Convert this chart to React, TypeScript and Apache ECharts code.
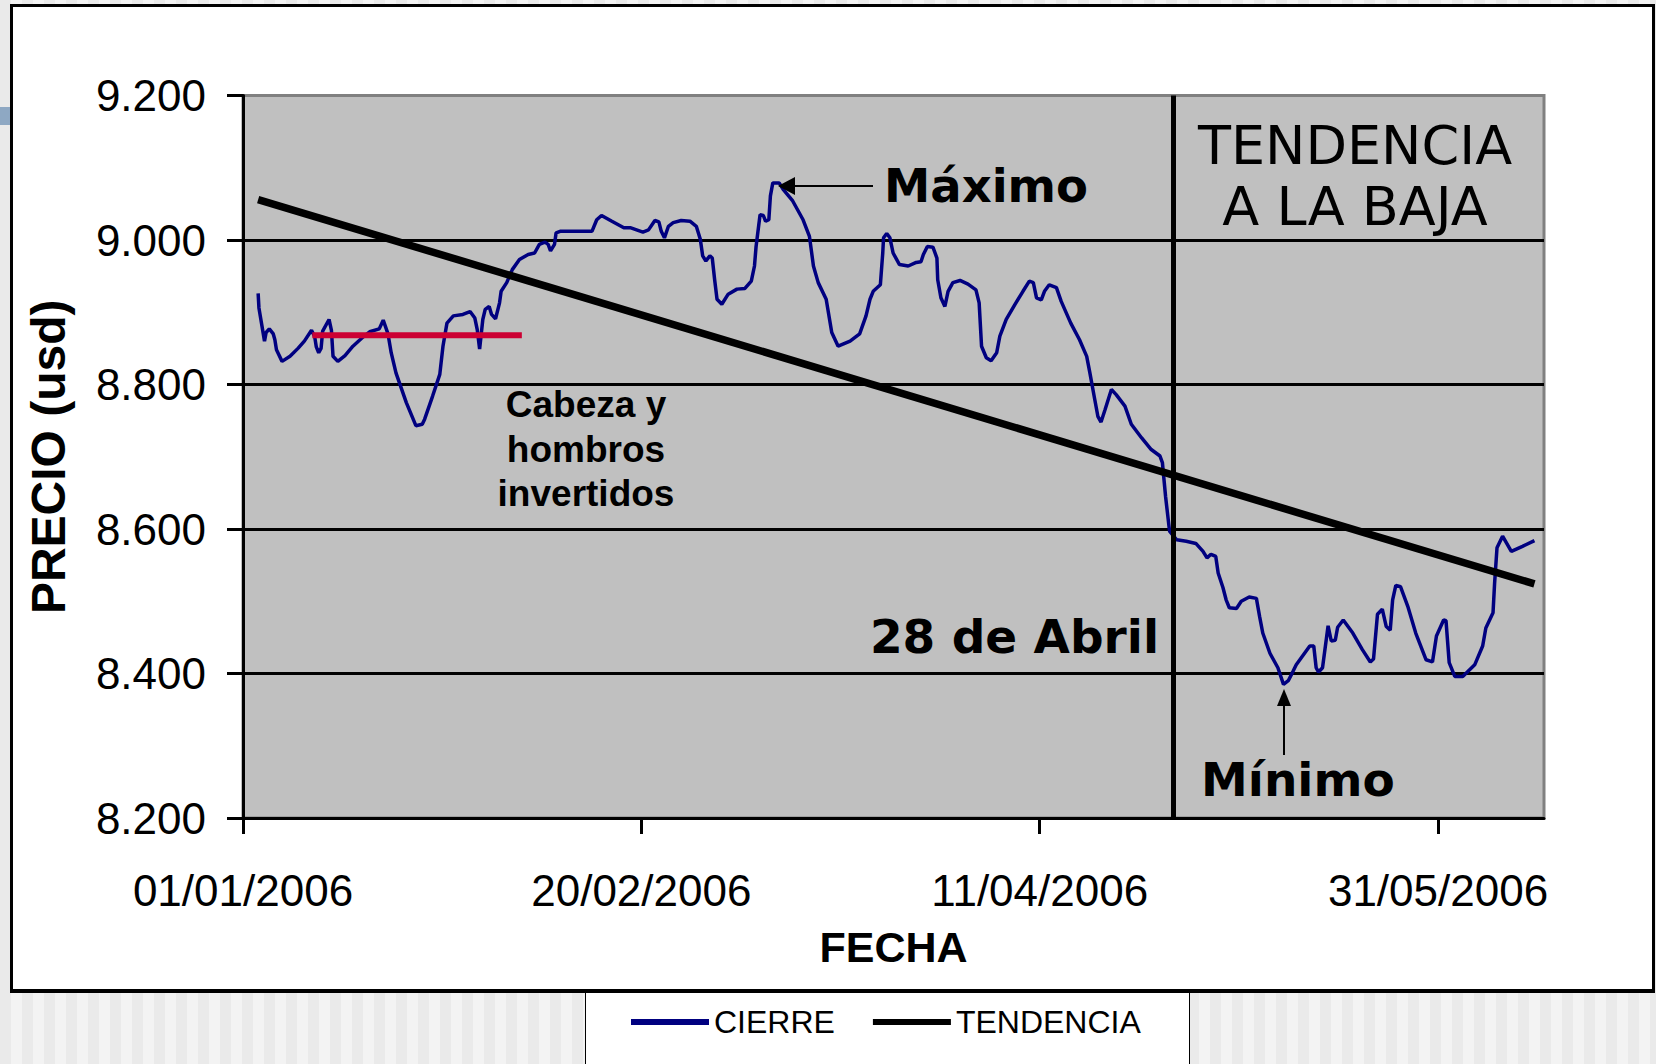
import React, { useEffect, useRef } from 'react';
import * as echarts from 'echarts';

// Days since 01/01/2006 (as plotted) and closing prices
const cierreDays = [
  1.9, 2.0, 2.7, 2.9, 3.3, 3.8, 4.0, 4.2, 4.9, 5.9, 6.9, 7.7, 8.6, 9.0, 9.2, 9.5, 9.8, 10.0, 10.8, 11.1,
  11.3, 11.9, 12.8, 13.8, 15.1, 15.9, 17.1, 17.6, 18.2, 18.6, 19.2, 20.5, 21.7, 22.5, 22.8, 23.8, 24.7, 25.1, 25.6, 26.4,
  27.6, 28.5, 29.1, 29.4, 29.7, 30.1, 30.4, 30.9, 31.2, 31.7, 32.2, 32.4, 33.1, 33.8, 34.7, 35.8, 36.6, 37.2, 37.9, 38.3,
  38.6, 39.1, 39.3, 39.8, 43.8, 44.4, 45.0, 46.3, 47.8, 48.6, 50.2, 50.9, 51.7, 52.2, 52.5, 52.9, 53.4, 54.0, 55.0, 56.1,
  56.9, 57.4, 57.7, 58.1, 58.6, 58.9, 59.2, 59.5, 60.1, 60.9, 62.0, 63.0, 63.8, 64.2, 64.4, 64.9, 65.3, 65.6, 66.0, 66.2,
  66.5, 67.3, 67.8, 69.0, 70.3, 71.1, 71.6, 72.2, 73.2, 73.9, 74.7, 76.2, 77.4, 78.2, 78.7, 79.1, 80.0, 80.3, 80.4, 80.8,
  81.2, 81.6, 82.4, 83.5, 84.5, 85.1, 85.4, 85.9, 86.6, 87.1, 87.2, 87.6, 88.1, 88.5, 89.1, 90.0, 91.0, 92.0, 92.4, 92.7,
  93.3, 93.9, 94.6, 95.0, 95.8, 96.9, 97.9, 98.7, 99.2, 99.6, 100.2, 100.6, 101.2, 102.1, 102.7, 103.9, 105.0, 105.9, 106.3, 106.9,
  107.3, 107.7, 108.2, 109.0, 109.6, 110.7, 111.5, 112.8, 114.0, 115.1, 115.4, 115.8, 116.3, 117.2, 118.4, 119.6, 120.5, 121.0, 121.5, 122.1,
  122.4, 123.0, 123.4, 123.8, 124.7, 125.3, 126.3, 127.2, 127.6, 128.0, 128.9, 129.9, 130.6, 131.2, 131.8, 132.2, 133.9, 134.4, 134.7, 135.0,
  135.5, 136.2, 136.6, 137.1, 137.4, 138.1, 139.3, 140.5, 141.5, 141.9, 142.4, 143.0, 143.5, 144.0, 144.3, 144.7, 145.3, 146.2, 147.2, 148.5,
  149.3, 149.8, 150.7, 151.0, 151.4, 152.1, 153.1, 154.6, 155.6, 156.0, 156.9, 157.1, 157.4, 158.1, 159.2, 160.6, 162.1,
];
const cierreValues = [
  8926, 8906, 8860, 8872, 8877, 8870, 8862, 8848, 8832, 8839, 8850, 8860, 8875, 8866, 8852, 8844, 8850, 8874, 8890, 8875,
  8839, 8832, 8840, 8853, 8866, 8873, 8877, 8889, 8870, 8844, 8816, 8775, 8743, 8745, 8752, 8784, 8814, 8853, 8885, 8895,
  8897, 8901, 8892, 8876, 8849, 8890, 8904, 8908, 8897, 8891, 8913, 8929, 8941, 8959, 8973, 8980, 8982, 8994, 8997, 8994,
  8985, 8994, 9010, 9012, 9012, 9028, 9034, 9026, 9017, 9017, 9011, 9014, 9027, 9025, 9012, 9003, 9019, 9024, 9027, 9026,
  9019, 9001, 8978, 8971, 8978, 8975, 8945, 8918, 8911, 8925, 8932, 8933, 8943, 8964, 8991, 9035, 9034, 9026, 9028, 9061,
  9079, 9079, 9070, 9054, 9028, 9005, 8964, 8941, 8918, 8872, 8853, 8860, 8870, 8895, 8918, 8929, 8938, 8982, 9003, 9009,
  9003, 8982, 8966, 8964, 8969, 8970, 8980, 8991, 8990, 8975, 8945, 8920, 8908, 8929, 8941, 8944, 8939, 8931, 8913, 8853,
  8837, 8833, 8844, 8867, 8890, 8911, 8929, 8943, 8941, 8920, 8917, 8929, 8938, 8934, 8915, 8885, 8862, 8839, 8816, 8780,
  8756, 8748, 8765, 8793, 8786, 8770, 8745, 8726, 8710, 8701, 8692, 8645, 8597, 8585, 8583, 8580, 8569, 8560, 8565, 8562,
  8539, 8519, 8502, 8491, 8490, 8500, 8506, 8504, 8479, 8456, 8428, 8408, 8385, 8390, 8403, 8412, 8438, 8438, 8408, 8402,
  8408, 8466, 8445, 8446, 8464, 8474, 8456, 8433, 8416, 8420, 8482, 8489, 8465, 8460, 8502, 8522, 8520, 8493, 8456, 8419,
  8416, 8452, 8474, 8473, 8415, 8396, 8396, 8412, 8438, 8463, 8484, 8525, 8574, 8590, 8569, 8576, 8584,
];
const trendDays = [1.9, 162.1];
const trendValues = [9056, 8524];
const shoulderDays = [8.7, 35.0];
const shoulderValues = [8868, 8868];
const xTickDays = [0, 50, 100, 150];
const xTickLabels = ['01/01/2006', '20/02/2006', '11/04/2006', '31/05/2006'];
const yMin = 8200;
const yMax = 9200;
const yStep = 200;
const abrilDay = 116.8;

const fmtY = (v: number) => {
  const r = Math.round(v);
  return `${Math.floor(r / 1000)}.${String(r % 1000).padStart(3, '0')}`;
};

export default function App() {
  const ref = useRef<HTMLDivElement>(null);
  useEffect(() => {
    if (!ref.current) return;
    const chart = echarts.init(ref.current, undefined, { renderer: 'svg' });
    const sans = 'Liberation Sans';
    const deja = 'DejaVu Sans';
    const option: any = {
      animation: false,
      grid: {
        left: 243, top: 95.5, width: 1301, height: 722.5, show: true,
        backgroundColor: '#c0c0c0', borderColor: '#808080', borderWidth: 3,
      },
      xAxis: {
        type: 'value', min: 0, max: 163.3, interval: 50,
        axisLine: { lineStyle: { color: '#000', width: 3 } },
        axisTick: { length: 16, lineStyle: { color: '#000', width: 3 } },
        axisLabel: {
          showMaxLabel: false, fontSize: 44, color: '#000', fontFamily: sans, margin: 50,
          formatter: (v: number) => { const i = xTickDays.indexOf(v); return i >= 0 ? xTickLabels[i] : ''; },
        },
        splitLine: { show: false },
        name: 'FECHA', nameLocation: 'middle', nameGap: 107,
        nameTextStyle: { fontSize: 43, fontWeight: 'bold', color: '#000', fontFamily: sans },
      },
      yAxis: {
        type: 'value', min: yMin, max: yMax, interval: yStep,
        axisLine: { show: true, lineStyle: { color: '#000', width: 3 } },
        axisTick: { show: true, length: 16, lineStyle: { color: '#000', width: 3 } },
        axisLabel: { fontSize: 44, color: '#000', fontFamily: sans, margin: 37, formatter: fmtY },
        splitLine: { show: true, lineStyle: { color: ['#000', '#000', '#000', '#000', '#000', '#808080'], width: 3 } },
        name: 'PRECIO (usd)', nameLocation: 'middle', nameGap: 171, nameRotate: 90,
        nameTextStyle: { fontSize: 48, fontWeight: 'bold', color: '#000', fontFamily: sans },
      },
      legend: {
        data: ['CIERRE', 'TENDENCIA'], left: 631, top: 1006, padding: 0,
        icon: 'rect', itemWidth: 78, itemHeight: 6, itemGap: 38,
        textStyle: { fontSize: 32, color: '#000', fontFamily: sans },
      },
      series: [
        {
          name: 'CIERRE', type: 'line', color: '#000080', symbol: 'none', z: 3,
          lineStyle: { color: '#000080', width: 3.5 },
          data: cierreDays.map((d, i) => [d, cierreValues[i]]),
          markLine: {
            silent: true, symbol: ['none', 'none'], label: { show: false },
            lineStyle: { color: '#000', width: 5, type: 'solid' },
            data: [{ xAxis: abrilDay }],
          },
        },
        {
          name: 'HCI', type: 'line', symbol: 'none', z: 4, color: '#cc0033',
          lineStyle: { color: '#cc0033', width: 6 },
          data: shoulderDays.map((d, i) => [d, shoulderValues[i]]),
        },
        {
          name: 'TENDENCIA', type: 'line', color: '#000', symbol: 'none', z: 5,
          lineStyle: { color: '#000', width: 7.5, cap: 'butt' },
          data: trendDays.map((d, i) => [d, trendValues[i]]),
        },
      ],
      graphic: [
        { type: 'text', x: 884, y: 186, z: 10, style: { text: 'Máximo', fill: '#000', fontSize: 46.5, fontWeight: 'bold', fontFamily: deja, align: 'left', verticalAlign: 'middle' } },
        { type: 'line', z: 10, shape: { x1: 873, y1: 186, x2: 792, y2: 186 }, style: { stroke: '#000', lineWidth: 2 } },
        { type: 'polygon', z: 10, shape: { points: [[778, 186], [795, 177], [795, 195]] }, style: { fill: '#000' } },
        { type: 'text', x: 1355, y: 145, z: 10, style: { text: 'TENDENCIA', fill: '#000', fontSize: 54, fontFamily: deja, align: 'center', verticalAlign: 'middle' } },
        { type: 'text', x: 1355, y: 206, z: 10, style: { text: 'A LA BAJA', fill: '#000', fontSize: 54, fontFamily: deja, align: 'center', verticalAlign: 'middle' } },
        { type: 'text', x: 1159, y: 636, z: 10, style: { text: '28 de Abril', fill: '#000', fontSize: 47, fontWeight: 'bold', fontFamily: deja, align: 'right', verticalAlign: 'middle' } },
        { type: 'text', x: 1201, y: 779, z: 10, style: { text: 'Mínimo', fill: '#000', fontSize: 47, fontWeight: 'bold', fontFamily: deja, align: 'left', verticalAlign: 'middle' } },
        { type: 'line', z: 10, shape: { x1: 1284, y1: 755, x2: 1284, y2: 700 }, style: { stroke: '#000', lineWidth: 2 } },
        { type: 'polygon', z: 10, shape: { points: [[1284, 689], [1277, 706], [1291, 706]] }, style: { fill: '#000' } },
        { type: 'text', x: 586, y: 404, z: 10, style: { text: 'Cabeza y', fill: '#000', fontSize: 37, fontWeight: 'bold', fontFamily: sans, align: 'center', verticalAlign: 'middle' } },
        { type: 'text', x: 586, y: 449, z: 10, style: { text: 'hombros', fill: '#000', fontSize: 37, fontWeight: 'bold', fontFamily: sans, align: 'center', verticalAlign: 'middle' } },
        { type: 'text', x: 586, y: 493, z: 10, style: { text: 'invertidos', fill: '#000', fontSize: 37, fontWeight: 'bold', fontFamily: sans, align: 'center', verticalAlign: 'middle' } },
      ],
    };
    chart.setOption(option);
    return () => chart.dispose();
  }, []);

  return (
    <div style={{
      position: 'absolute', left: 0, top: 0, width: 1656, height: 1064, overflow: 'hidden',
      background: 'repeating-linear-gradient(90deg, #eaeaea 0px, #eaeaea 11px, #f3f3f3 11px, #f3f3f3 22px)',
    }}>
      <div style={{ position: 'absolute', left: 0, top: 107, width: 10, height: 18, background: '#8ea8c3' }} />
      <div style={{
        position: 'absolute', left: 10, top: 4, width: 1639, height: 982, background: '#fff',
        borderStyle: 'solid', borderColor: '#000', borderWidth: '3px 3px 4px 3px',
      }} />
      <div style={{
        position: 'absolute', left: 585, top: 993, width: 603, height: 80, background: '#fff',
        borderLeft: '1px solid #000', borderRight: '1px solid #000',
      }} />
      <div ref={ref} style={{ position: 'absolute', left: 0, top: 0, width: 1656, height: 1064 }} />
    </div>
  );
}
